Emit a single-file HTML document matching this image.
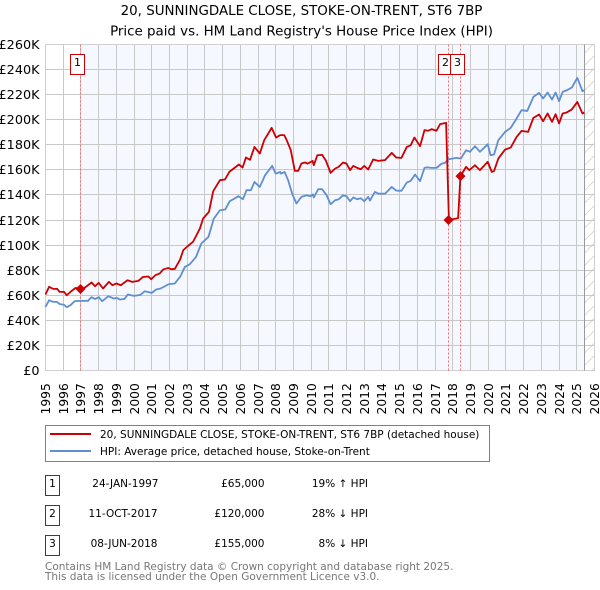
<!DOCTYPE html>
<html lang="en">
<head>
<meta charset="utf-8">
<title>20, Sunningdale Close price chart</title>
<style>
html,body{margin:0;padding:0;background:#fff;}
body{width:600px;height:590px;overflow:hidden;}
svg{display:block;font-family:"DejaVu Sans","Liberation Sans",sans-serif;}
text{fill:#000;}
</style>
</head>
<body>
<svg id="chart" xmlns="http://www.w3.org/2000/svg" width="600" height="590" viewBox="0 0 600 590">
  <defs>
    <pattern id="hatch" patternUnits="userSpaceOnUse" width="12.5" height="12.5">
      <path d="M-1 13.5 L13.5 -1" stroke="#d0d0d0" stroke-width="0.8" fill="none"/>
    </pattern>
  </defs>
  <text x="301.5" y="15" text-anchor="middle" font-size="13.4">20, SUNNINGDALE CLOSE, STOKE-ON-TRENT, ST6 7BP</text>
  <text x="301.5" y="35.5" text-anchor="middle" font-size="13.4">Price paid vs. HM Land Registry's House Price Index (HPI)</text>
  <g id="plot"></g>

  <g>
    <rect x="45.5" y="425.5" width="444" height="36" fill="#fff" stroke="#808080" stroke-width="1"/>
    <line x1="50" x2="91" y1="434" y2="434" stroke="#cc0000" stroke-width="2"/>
    <text x="100" y="438" font-size="10.5">20, SUNNINGDALE CLOSE, STOKE-ON-TRENT, ST6 7BP (detached house)</text>
    <line x1="50" x2="91" y1="451" y2="451" stroke="#5f8fd0" stroke-width="2"/>
    <text x="100" y="455" font-size="10.5">HPI: Average price, detached house, Stoke-on-Trent</text>
  </g>

  <g font-size="10.5">
    <g>
      <rect x="45.5" y="475.5" width="14" height="20" fill="#fff" stroke="#cc0000"/>
      <text x="52.5" y="487" text-anchor="middle">1</text>
      <text x="158.5" y="487" text-anchor="end">24-JAN-1997</text>
      <text x="264.5" y="487" text-anchor="end">£65,000</text>
      <text x="368" y="487" text-anchor="end">19% ↑ HPI</text>
    </g>
    <g>
      <rect x="45.5" y="505.5" width="14" height="20" fill="#fff" stroke="#cc0000"/>
      <text x="52.5" y="517" text-anchor="middle">2</text>
      <text x="157.5" y="517" text-anchor="end">11-OCT-2017</text>
      <text x="264.5" y="517" text-anchor="end">£120,000</text>
      <text x="368" y="517" text-anchor="end">28% ↓ HPI</text>
    </g>
    <g>
      <rect x="45.5" y="535.5" width="14" height="20" fill="#fff" stroke="#cc0000"/>
      <text x="52.5" y="547" text-anchor="middle">3</text>
      <text x="157.5" y="547" text-anchor="end">08-JUN-2018</text>
      <text x="264.5" y="547" text-anchor="end">£155,000</text>
      <text x="368" y="547" text-anchor="end">8% ↓ HPI</text>
    </g>
  </g>

  <text x="45" y="570" font-size="10.5" style="fill:#777">Contains HM Land Registry data © Crown copyright and database right 2025.</text>
  <text x="45" y="580" font-size="10.5" style="fill:#777">This data is licensed under the Open Government Licence v3.0.</text>
</svg>
<script>
var yearTicks = [1995,1996,1997,1998,1999,2000,2001,2002,2003,2004,2005,2006,2007,2008,2009,2010,2011,2012,2013,2014,2015,2016,2017,2018,2019,2020,2021,2022,2023,2024,2025,2026];
var priceTicks = [0,20,40,60,80,100,120,140,160,180,200,220,240,260];
var priceTickLabels = ['£0','£20K','£40K','£60K','£80K','£100K','£120K','£140K','£160K','£180K','£200K','£220K','£240K','£260K'];

var hpiDates = [1995,1995.2,1995.45,1995.65,1995.8,1996.05,1996.2,1996.4,1996.65,1997,1997.4,1997.6,1997.8,1998,1998.2,1998.55,1998.85,1999.05,1999.2,1999.45,1999.65,2000,2000.35,2000.6,2001,2001.25,2001.5,2001.95,2002.3,2002.6,2002.87,2003.15,2003.5,2003.8,2004.2,2004.5,2004.85,2005.15,2005.4,2005.9,2006.15,2006.35,2006.6,2006.8,2007.1,2007.4,2007.8,2008,2008.25,2008.3,2008.5,2008.7,2008.93,2009.17,2009.45,2009.75,2009.95,2010.1,2010.15,2010.4,2010.62,2010.87,2011.1,2011.35,2011.55,2011.8,2012,2012.2,2012.38,2012.6,2012.8,2013,2013.22,2013.32,2013.6,2013.8,2014.17,2014.55,2014.8,2015.1,2015.4,2015.62,2015.87,2016.15,2016.4,2016.55,2016.8,2017.08,2017.37,2017.55,2017.75,2018.22,2018.45,2018.75,2018.97,2019.25,2019.53,2019.97,2020.13,2020.33,2020.57,2020.95,2021.27,2021.6,2021.88,2022.2,2022.55,2022.87,2023.1,2023.35,2023.6,2023.8,2024,2024.2,2024.43,2024.72,2025.03,2025.32,2025.42];
var hpiValues = [50.7,56,54.7,54.7,53,52.3,50.5,52,55.3,55.5,55.5,58.5,57,58.5,55.3,59.3,57.4,57.8,56.6,57,60.6,59.5,60.3,63.2,61.9,64.6,65.4,68.8,69.4,74.7,82.6,84.8,90.6,101.3,106.5,121,127.8,128.4,135,139,136.6,143.8,143.8,150.4,146.4,155.8,163.2,157,158.4,157,158.4,151.8,141,133.2,138.5,139.8,139,140.5,138,144.6,144.6,139.8,132.6,135.8,136.5,139.8,139,135,138,136.6,137.4,135,138.5,135.5,142.4,141,141,146.4,143.5,143.3,149.9,151.2,156.3,151,161.6,162,161.6,161.6,165,165.5,168.5,169.6,169,175.7,174.4,178.9,174.4,180.5,171.7,172.3,183.7,190.3,193.5,201,207.6,207,218.2,221.4,217,221.7,216.1,221.7,214.8,222.2,223.5,225.7,233.4,222.8,223.5];

var paidDates = [1995,1995.2,1995.45,1995.65,1995.8,1996.05,1996.2,1996.45,1996.7,1996.96,1997.2,1997.6,1997.8,1998,1998.25,1998.58,1998.78,1999,1999.25,1999.63,1999.9,2000.25,2000.5,2000.8,2000.97,2001.2,2001.45,2001.65,2001.93,2002.1,2002.3,2002.6,2002.78,2003.05,2003.33,2003.53,2003.72,2003.9,2004.23,2004.47,2004.85,2005.13,2005.38,2005.92,2006.13,2006.32,2006.55,2006.8,2007.1,2007.35,2007.77,2008.02,2008.25,2008.48,2008.62,2008.85,2009.08,2009.27,2009.45,2009.65,2009.8,2010.08,2010.15,2010.35,2010.62,2010.82,2011.1,2011.35,2011.55,2011.8,2012,2012.2,2012.38,2012.6,2012.8,2013,2013.22,2013.5,2013.8,2014.17,2014.55,2014.8,2015.1,2015.4,2015.62,2015.83,2016.15,2016.4,2016.6,2016.8,2017.08,2017.28,2017.62,2017.78,2018.3,2018.43,2018.75,2018.93,2019.25,2019.53,2019.97,2020.2,2020.33,2020.57,2020.95,2021.27,2021.6,2021.88,2022.25,2022.55,2022.87,2023.1,2023.35,2023.6,2023.8,2024,2024.2,2024.43,2024.72,2025.03,2025.32,2025.42];
var paidValues = [60.6,66.7,65,65.2,62.7,62.7,60,63.2,65.9,65,65.9,70.2,67.2,69.9,65.4,70.7,68,69.4,68,72,70.7,71.5,74.6,75,72.8,76,77.4,80.6,81.8,80.8,81,88.5,96,99.4,102.6,108,113.3,121.2,126.5,143,151.8,152.3,158.4,164.3,161.9,169.9,168,178.3,173,183.7,193.5,185.8,187.7,187.7,183.7,175.7,159.2,159.2,165.1,165.9,165,167.2,163.7,171.7,172,167.7,157.6,161,162.4,165.9,165,159.8,163.2,161.6,160.5,163.2,160.3,168.3,167.2,167.8,173.6,169.9,169.6,178.3,179.6,185.8,178.9,191.7,191.2,192.5,191.2,196.5,197.5,120,121.5,155,162.4,159.8,163.7,159.8,166.4,158.4,159.2,169,176.2,177.8,186.3,191.1,190.3,201.5,204.2,198.8,205,198.3,204.4,197,205,205.8,208.2,214.2,205,205.8];

var saleYears = [1996.97,2017.75,2018.43];
var salePrices = [65,120,155];
var saleNumbers = ['1','2','3'];
var shadeStartYear = 1997;
var dataEndYear = 2025.43;

function xAxis(year){ return 45.5 + (year - 1995) * (549 / 31); }
function yAxis(k){ return 370.5 - k * (326 / 260); }
function snap(v){ return Math.floor(v) + 0.5; }

var NS = 'http://www.w3.org/2000/svg';
var plot = document.getElementById('plot');
function make(tag, attrs, parent){
  var el = document.createElementNS(NS, tag);
  for (var k in attrs) el.setAttribute(k, attrs[k]);
  (parent || plot).appendChild(el);
  return el;
}
function linePath(dates, values){
  var d = '';
  for (var i = 0; i < dates.length; i++) d += (i ? 'L' : 'M') + xAxis(dates[i]).toFixed(2) + ' ' + yAxis(values[i]).toFixed(2);
  return d;
}

var left = xAxis(1995), right = xAxis(2026), top_ = yAxis(260), bottom = yAxis(0);

var shade = make('rect', {x: snap(xAxis(shadeStartYear)), y: top_, width: xAxis(dataEndYear) - snap(xAxis(shadeStartYear)), height: bottom - top_, fill: '#f5f8ff'});



var hatchRect = make('rect', {x: xAxis(dataEndYear), y: top_, width: right - xAxis(dataEndYear), height: bottom - top_, fill: 'url(#hatch)'});



yearTicks.forEach(function(year){
  var x = snap(xAxis(year));
  var grid = make('line', {x1: x, x2: x, y1: top_, y2: bottom, stroke: '#c8c8c8', 'stroke-width': 1});
  
  
  var label = make('text', {transform: 'translate(' + (x + 4.5) + ',414.5) rotate(-90)', 'font-size': 12.3});
  label.textContent = String(year);
  
  
});

priceTicks.forEach(function(k, i){
  var y = snap(yAxis(k) - 0.01);
  var grid = make('line', {x1: left, x2: right, y1: y, y2: y, stroke: '#c8c8c8', 'stroke-width': 1});
  
  
  var label = make('text', {x: 39.5, y: y + 4.5, 'text-anchor': 'end', 'font-size': 12.8});
  label.textContent = priceTickLabels[i];
  
  
});

var frame = make('rect', {x: left, y: top_, width: right - left, height: bottom - top_, fill: 'none', stroke: '#d0d0d0', 'stroke-width': 1});



var endLine = make('line', {x1: snap(xAxis(dataEndYear)), x2: snap(xAxis(dataEndYear)), y1: top_, y2: bottom, stroke: '#999', 'stroke-width': 1});



saleYears.forEach(function(year){
  var x = snap(xAxis(year));
  var dash = make('line', {x1: x, x2: x, y1: top_, y2: bottom, stroke: '#ff6b6b', 'stroke-width': 1, 'stroke-dasharray': '2 2'});
  
  
});

var hpiLine = make('path', {d: linePath(hpiDates, hpiValues), fill: 'none', stroke: '#5f8fd0', 'stroke-width': 1.8, 'stroke-linejoin': 'round'});



var paidLine = make('path', {d: linePath(paidDates, paidValues), fill: 'none', stroke: '#cc0000', 'stroke-width': 1.8, 'stroke-linejoin': 'round'});



saleYears.forEach(function(year, i){
  var x = snap(xAxis(year)), y = yAxis(salePrices[i]), r = 5;
  var marker = make('polygon', {points: (x - r) + ',' + y + ' ' + x + ',' + (y - r) + ' ' + (x + r) + ',' + y + ' ' + x + ',' + (y + r), fill: '#cc0000'});
  
  
  var boxX = x - 10;
  var box = make('rect', {x: boxX, y: 54.5, width: 14, height: 20, fill: '#fff', stroke: '#cc0000', 'stroke-width': 1});
  
  
  var num = make('text', {x: boxX + 7, y: 66, 'text-anchor': 'middle', 'font-size': 11});
  num.textContent = saleNumbers[i];
  
  
});
</script>
</body>
</html>
